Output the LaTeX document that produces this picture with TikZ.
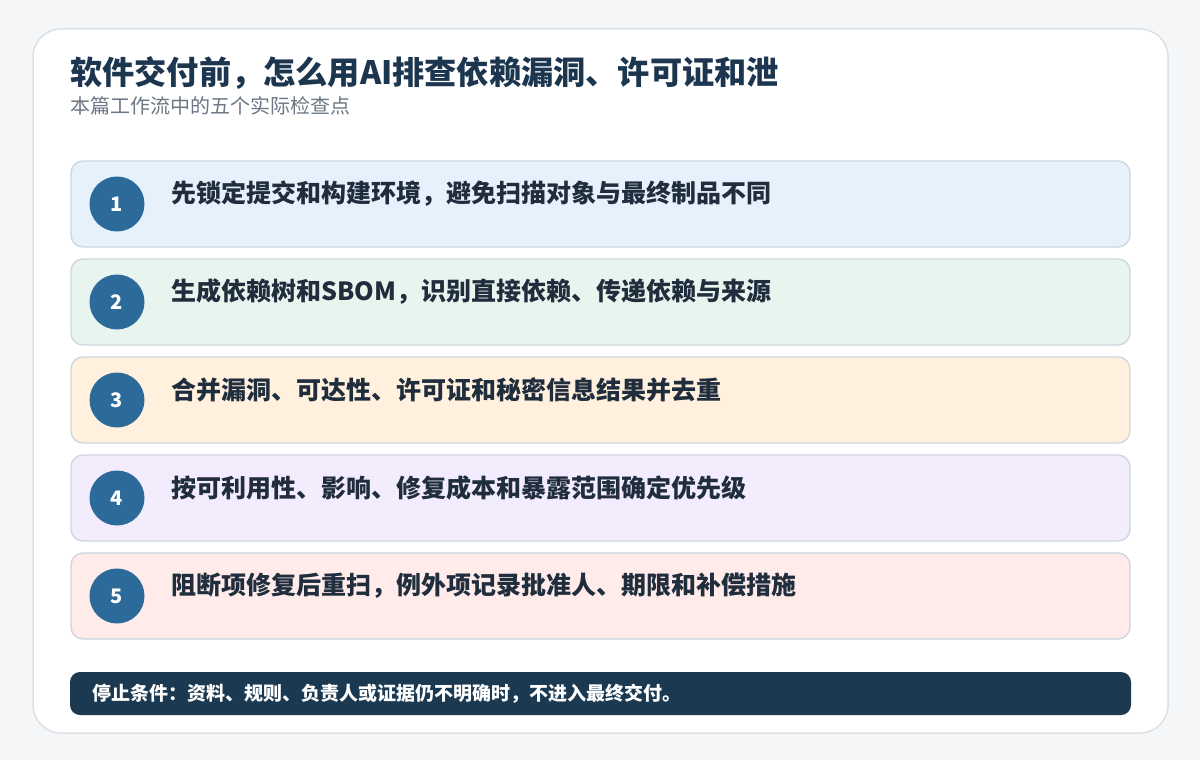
\documentclass[tikz,border=0pt]{standalone}
\usepackage{fontspec}
\setmainfont{Noto Sans CJK SC}
\definecolor{bg}{HTML}{F4F6F8}
\definecolor{cardline}{HTML}{DCE1E6}
\definecolor{rowline}{HTML}{CDD5DE}
\definecolor{titlec}{HTML}{1D3650}
\definecolor{subc}{HTML}{6B7785}
\definecolor{rowtext}{HTML}{1F2D3D}
\definecolor{circ}{HTML}{2C6A9A}
\definecolor{footc}{HTML}{1B3A52}
\definecolor{rA}{HTML}{E7F1FC}
\definecolor{rB}{HTML}{E8F5EE}
\definecolor{rC}{HTML}{FFF1DE}
\definecolor{rD}{HTML}{F2ECFD}
\definecolor{rE}{HTML}{FEEBEA}
\begin{document}
\begin{tikzpicture}[x=1pt,y=-1pt,
  rowbox/.style={draw=rowline,line width=1.3pt,rounded corners=12pt},
  numcirc/.style={circle,fill=circ,minimum size=55pt,inner sep=0pt,text=white,font=\fontsize{20}{24}\selectfont\bfseries},
  rowlabel/.style={anchor=west,inner sep=0pt,text=rowtext,font=\fontsize{25}{29}\selectfont\bfseries}]
\useasboundingbox[fill=bg] (0,0) rectangle (1200,760);
\filldraw[fill=white,draw=cardline,line width=1.5pt,rounded corners=28pt] (33,29) rectangle (1168,733);
\node[anchor=west,inner sep=0pt,text=titlec,font=\fontsize{32.2}{36}\selectfont\bfseries] (title) at (70,73) {软件交付前，怎么用AI排查依赖漏洞、许可证和泄};
\node[anchor=west,inner sep=0pt,text=subc,font=\fontsize{20}{23}\selectfont] (sub) at (70,106) {本篇工作流中的五个实际检查点};
\foreach \i/\c/\t in {0/rA/先锁定提交和构建环境，避免扫描对象与最终制品不同,
                      1/rB/生成依赖树和SBOM，识别直接依赖、传递依赖与来源,
                      2/rC/合并漏洞、可达性、许可证和秘密信息结果并去重,
                      3/rD/按可利用性、影响、修复成本和暴露范围确定优先级,
                      4/rE/阻断项修复后重扫，例外项记录批准人、期限和补偿措施}{
  \pgfmathsetmacro{\top}{161+98*\i}
  \filldraw[rowbox,fill=\c] (71,\top) rectangle (1130,\top+86);
  \pgfmathtruncatemacro{\n}{\i+1}
  \node[numcirc] (n\n) at (117,\top+43) {\n};
  \node[rowlabel] (t\n) at (171,\top+32.5) {\t};
}
\filldraw[fill=footc,draw=none,rounded corners=10pt] (70,672) rectangle (1131,715);
\node[anchor=west,inner sep=0pt,text=white,font=\fontsize{19}{22}\selectfont\bfseries] (foot) at (92,693.5) {停止条件：资料、规则、负责人或证据仍不明确时，不进入最终交付。};
\end{tikzpicture}
\end{document}
